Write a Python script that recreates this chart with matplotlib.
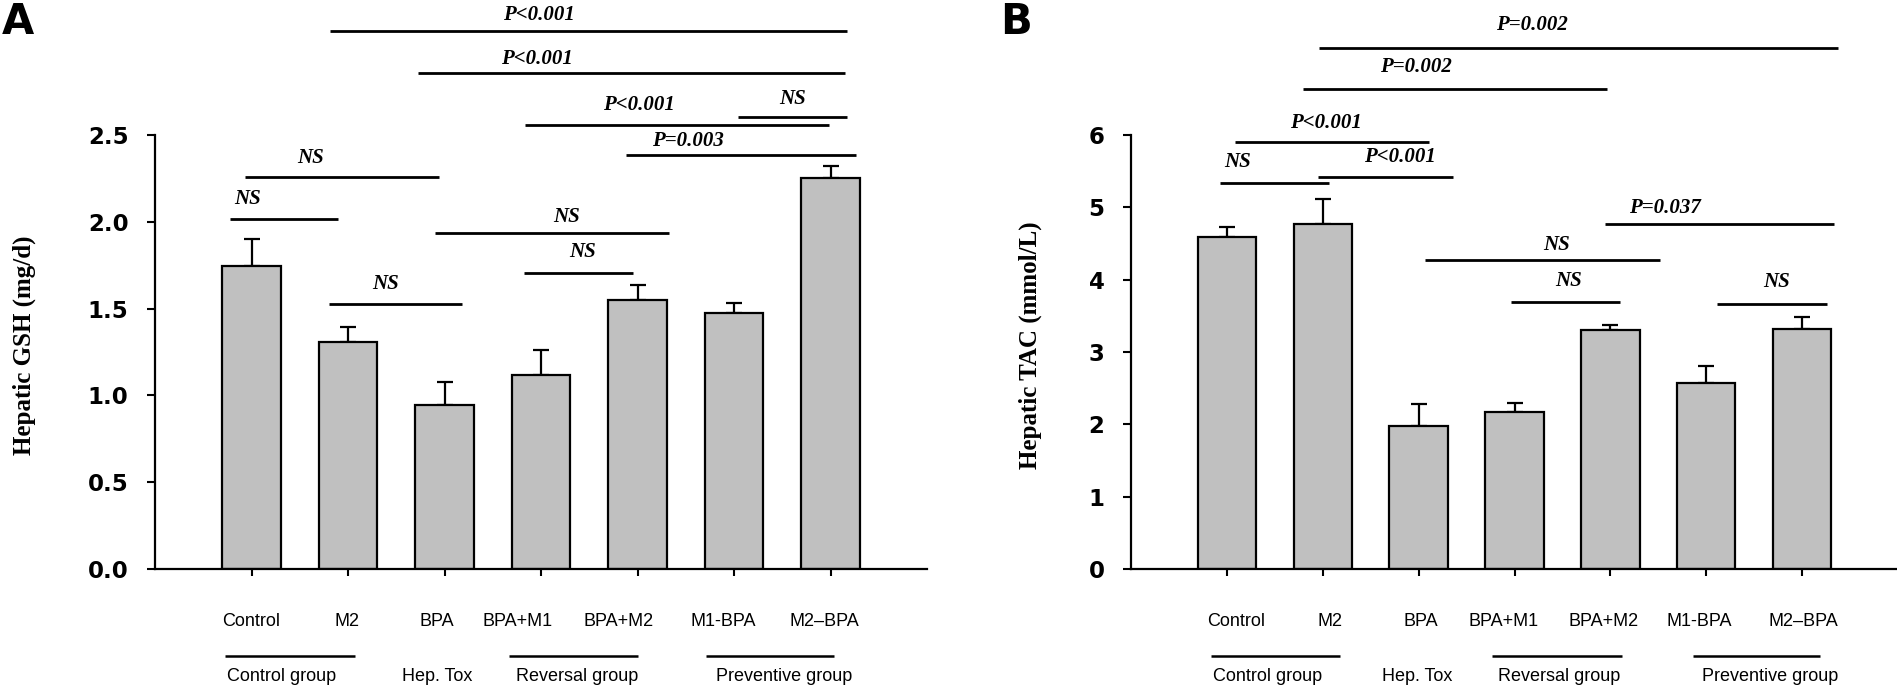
import matplotlib
matplotlib.use("Agg")
import matplotlib.pyplot as plt
from matplotlib import font_manager

# ---------------- data ----------------
categories = ["Control", "M2", "BPA", "BPA+M1", "BPA+M2", "M1-BPA", "M2\u2013BPA"]
groups = ["Control group", "Hep. Tox", "Reversal group", "Preventive group"]

gsh_mean = [1.744, 1.308, 0.942, 1.115, 1.548, 1.475, 2.254]
gsh_err = [0.156, 0.086, 0.135, 0.147, 0.090, 0.058, 0.069]

tac_mean = [4.586, 4.770, 1.981, 2.165, 3.300, 2.578, 3.320]
tac_err = [0.138, 0.350, 0.300, 0.135, 0.070, 0.235, 0.160]

# comparisons: (from, to, line level, label)
gsh_comp = [
    (0.81, 6.17, 3.10, "P<0.001"),
    (1.73, 6.15, 2.86, "P<0.001"),
    (2.83, 5.98, 2.56, "P<0.001"),
    (5.04, 6.17, 2.605, "NS"),
    (3.88, 6.26, 2.385, "P=0.003"),
    (-0.07, 1.94, 2.256, "NS"),
    (-0.22, 0.90, 2.015, "NS"),
    (1.90, 4.33, 1.937, "NS"),
    (2.82, 3.95, 1.706, "NS"),
    (0.80, 2.18, 1.525, "NS"),
]
tac_comp = [
    (0.96, 6.37, 7.20, "P=0.002"),
    (0.79, 3.97, 6.64, "P=0.002"),
    (0.08, 2.11, 5.90, "P<0.001"),
    (-0.07, 1.07, 5.33, "NS"),
    (0.95, 2.36, 5.42, "P<0.001"),
    (3.94, 6.33, 4.77, "P=0.037"),
    (2.07, 4.52, 4.265, "NS"),
    (2.96, 4.10, 3.69, "NS"),
    (5.11, 6.26, 3.67, "NS"),
]

# ---------------- layout ----------------
gsh_text_pos = [(2.98, 3.19), (2.96, 2.94), (4.01, 2.67), (5.61, 2.71), (4.52, 2.465),
                (0.61, 2.37), (-0.04, 2.13), (3.26, 2.03), (3.43, 1.825), (1.39, 1.64)]
tac_text_pos = [(3.18, 7.52), (1.97, 6.94), (1.03, 6.17), (0.11, 5.62), (1.81, 5.70),
                (4.57, 4.99), (3.44, 4.48), (3.56, 3.98), (5.73, 3.97)]

gsh_label_x = [0.0, 0.99, 1.92, 2.76, 3.80, 4.89, 5.94]
tac_label_x = [0.10, 1.08, 2.02, 2.89, 3.93, 4.93, 6.01]
gsh_group_lines = [(-0.27, 1.07), (2.67, 4.0), (4.71, 6.04)]
tac_group_lines = [(-0.17, 1.18), (2.77, 4.12), (4.86, 6.19)]
gsh_group_x = [0.31, 1.92, 3.37, 5.52]
tac_group_x = [0.42, 1.98, 3.47, 5.67]

W, H = 1897, 690
fig = plt.figure(figsize=(W / 100, H / 100), dpi=100)

avail = {f.name for f in font_manager.fontManager.ttflist}
narrow = "Liberation Sans Narrow" if "Liberation Sans Narrow" in avail else "Liberation Sans"

serif = "Liberation Serif"
BAR_COLOR = "#c0c0c0"


def make_panel(left_px, width_px, means, errs, ymax, yticks, ticklabels, comps, text_pos,
               label_x, group_lines, group_x, ylabel, ylabel_x):
    bottom_px, top_px = 569, 135
    ax = fig.add_axes([left_px / W, 1 - bottom_px / H, width_px / W, (bottom_px - top_px) / H])
    x = list(range(len(means)))
    ax.bar(x, means, width=0.61, color=BAR_COLOR, edgecolor="black", linewidth=1.6, zorder=2)
    ax.errorbar(x, means, yerr=[[0] * len(errs), errs], fmt="none", ecolor="black",
                elinewidth=1.6, capsize=6, capthick=1.6, zorder=1)
    ax.set_xlim(-1, 7)
    ax.set_ylim(0, ymax)
    for s in ["top", "right"]:
        ax.spines[s].set_visible(False)
    for s in ["left", "bottom"]:
        ax.spines[s].set_linewidth(1.6)
    ax.set_xticks(x)
    ax.set_xticklabels([])
    ax.tick_params(axis="x", direction="out", length=5, width=1.5)
    ax.set_yticks(yticks)
    ax.set_yticklabels(ticklabels, fontsize=16.5, fontweight="bold", family="DejaVu Sans")
    ax.tick_params(axis="y", direction="out", length=6, width=1.5, pad=13)

    # comparison brackets
    for (x1, x2, yl, lab), (tx, ty) in zip(comps, text_pos):
        ax.plot([x1, x2], [yl, yl], color="black", lw=2.0, clip_on=False, solid_capstyle="butt")
        ax.text(tx, ty, lab, ha="center", va="center", fontsize=15, fontweight="bold",
                style="italic", family=serif, clip_on=False)

    trans = ax.get_xaxis_transform()
    for lx, lab in zip(label_x, categories):
        ax.text(lx, -0.122, lab, transform=trans, ha="center", va="center",
                fontsize=13, family=narrow, clip_on=False)
    for (g1, g2) in group_lines:
        ax.plot([g1, g2], [-0.200, -0.200], transform=trans, color="black", lw=1.8,
                clip_on=False, solid_capstyle="butt")
    for gx, lab in zip(group_x, groups):
        ax.text(gx, -0.248, lab, transform=trans, ha="center", va="center",
                fontsize=13, family=narrow, clip_on=False)

    fig.text(ylabel_x / W, 1 - 345 / H, ylabel, rotation=90, ha="center", va="center",
             fontsize=18, fontweight="bold", family=serif)
    return ax


make_panel(155, 772, gsh_mean, gsh_err, 2.5, [0, 0.5, 1.0, 1.5, 2.0, 2.5],
           ["0.0", "0.5", "1.0", "1.5", "2.0", "2.5"], gsh_comp, gsh_text_pos,
           gsh_label_x, gsh_group_lines, gsh_group_x, "Hepatic GSH (mg/d)", 24)
make_panel(1131, 767, tac_mean, tac_err, 6, [0, 1, 2, 3, 4, 5, 6],
           ["0", "1", "2", "3", "4", "5", "6"], tac_comp, tac_text_pos,
           tac_label_x, tac_group_lines, tac_group_x, "Hepatic TAC (mmol/L)", 1030)

fig.text(2 / W, 1 - 1 / H, "A", ha="left", va="top", fontsize=30, fontweight="bold",
         family="DejaVu Sans")
fig.text(1000 / W, 1 - 1 / H, "B", ha="left", va="top", fontsize=30, fontweight="bold",
         family="DejaVu Sans")

fig.savefig("out.png", dpi=100)
